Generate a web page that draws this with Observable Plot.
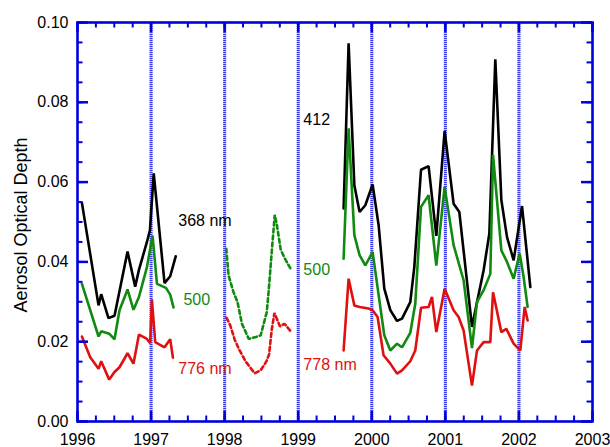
<!DOCTYPE html>
<html>
<head>
<meta charset="utf-8">
<script src="https://cdn.jsdelivr.net/npm/d3@7"></script>
<script src="https://cdn.jsdelivr.net/npm/@observablehq/plot@0.6"></script>
<style>
  html, body { margin: 0; padding: 0; background: #fff; }
</style>
</head>
<body>
<div id="chart"></div>
<script>
// ---- Data: [decimal year, aerosol optical depth] ----
const black1996 = [
  [1996.060, 0.0548], [1996.286, 0.0291], [1996.322, 0.0319], [1996.421, 0.0259],
  [1996.503, 0.0265], [1996.680, 0.0426], [1996.784, 0.0338], [1996.835, 0.0380],
  [1996.944, 0.0450], [1996.985, 0.0480], [1997.036, 0.0622], [1997.183, 0.0347],
  [1997.260, 0.0364], [1997.335, 0.0414]
];
const green1996 = [
  [1996.060, 0.0345], [1996.286, 0.0213], [1996.322, 0.0226], [1996.431, 0.0220],
  [1996.503, 0.0206], [1996.571, 0.0279], [1996.680, 0.0331], [1996.761, 0.0280],
  [1996.835, 0.0312], [1996.944, 0.0387], [1997.020, 0.0466], [1997.080, 0.0345],
  [1997.202, 0.0335], [1997.260, 0.0318], [1997.305, 0.0286]
];
const red1996 = [
  [1996.060, 0.0213], [1996.173, 0.0161], [1996.286, 0.0132], [1996.322, 0.0151],
  [1996.431, 0.0105], [1996.503, 0.0124], [1996.571, 0.0136], [1996.680, 0.0171],
  [1996.761, 0.0145], [1996.835, 0.0218], [1996.944, 0.0207], [1996.988, 0.0196],
  [1997.011, 0.0306], [1997.056, 0.0199], [1997.183, 0.0186], [1997.260, 0.0206],
  [1997.297, 0.0160]
];
const green1998 = [
  [1998.022, 0.0433], [1998.053, 0.0366], [1998.121, 0.0324], [1998.175, 0.0299],
  [1998.235, 0.0245], [1998.328, 0.0207], [1998.426, 0.0212], [1998.490, 0.0216],
  [1998.572, 0.0274], [1998.597, 0.0324], [1998.640, 0.0425], [1998.681, 0.0518],
  [1998.708, 0.0495], [1998.763, 0.0430], [1998.814, 0.0410], [1998.910, 0.0378]
];
const red1998 = [
  [1998.026, 0.0260], [1998.076, 0.0241], [1998.137, 0.0205], [1998.198, 0.0180],
  [1998.287, 0.0150], [1998.407, 0.0121], [1998.488, 0.0128], [1998.566, 0.0150],
  [1998.604, 0.0168], [1998.640, 0.0230], [1998.677, 0.0272], [1998.715, 0.0255],
  [1998.753, 0.0238], [1998.813, 0.0245], [1998.899, 0.0226]
];
const black2000 = [
  [1999.617, 0.0534], [1999.685, 0.0948], [1999.763, 0.0592], [1999.834, 0.0525],
  [1999.912, 0.0542], [2000.011, 0.0594], [2000.093, 0.0492], [2000.170, 0.0333],
  [2000.252, 0.0279], [2000.343, 0.0252], [2000.411, 0.0258], [2000.523, 0.0299],
  [2000.578, 0.0387], [2000.669, 0.0631], [2000.772, 0.0640], [2000.877, 0.0465],
  [2000.990, 0.0728], [2001.112, 0.0546], [2001.190, 0.0525], [2001.362, 0.0237],
  [2001.430, 0.0299], [2001.520, 0.0379], [2001.598, 0.0471], [2001.679, 0.0908],
  [2001.761, 0.0555], [2001.838, 0.0462], [2001.928, 0.0404], [2002.042, 0.0540],
  [2002.155, 0.0337]
];
const green2000 = [
  [1999.617, 0.0408], [1999.685, 0.0735], [1999.763, 0.0467], [1999.834, 0.0417],
  [1999.912, 0.0391], [2000.011, 0.0425], [2000.170, 0.0216], [2000.252, 0.0178],
  [2000.343, 0.0195], [2000.411, 0.0186], [2000.523, 0.0222], [2000.591, 0.0295],
  [2000.669, 0.0538], [2000.772, 0.0567], [2000.877, 0.0391], [2000.990, 0.0588],
  [2001.112, 0.0442], [2001.248, 0.0354], [2001.362, 0.0184], [2001.430, 0.0299],
  [2001.520, 0.0329], [2001.611, 0.0370], [2001.648, 0.0668], [2001.761, 0.0429],
  [2001.838, 0.0400], [2001.928, 0.0358], [2002.010, 0.0421], [2002.064, 0.0362],
  [2002.118, 0.0287]
];
const red2000 = [
  [1999.617, 0.0178], [1999.685, 0.0358], [1999.763, 0.0291], [1999.834, 0.0287],
  [1999.956, 0.0283], [2000.011, 0.0279], [2000.079, 0.0262], [2000.160, 0.0166],
  [2000.252, 0.0145], [2000.343, 0.0120], [2000.411, 0.0128], [2000.523, 0.0151],
  [2000.591, 0.0178], [2000.669, 0.0285], [2000.772, 0.0287], [2000.818, 0.0312],
  [2000.877, 0.0224], [2000.990, 0.0333], [2001.112, 0.0279], [2001.180, 0.0262],
  [2001.248, 0.0228], [2001.362, 0.0090], [2001.430, 0.0178], [2001.520, 0.0199],
  [2001.611, 0.0199], [2001.648, 0.0324], [2001.761, 0.0224], [2001.829, 0.0232],
  [2001.928, 0.0195], [2002.019, 0.0178], [2002.078, 0.0287], [2002.118, 0.0253]
];

// ---- Series labels ----
const labelTexts = ["368 nm", "500", "776 nm", "412", "500", "778 nm"];
const labelX = [1997.37, 1997.44, 1997.37, 1999.07, 1999.07, 1999.07];
const labelY = [0.0504, 0.0304, 0.0133, 0.0755, 0.0381, 0.0143];
const labelColors = ["black", "green", "red", "black", "green", "red"];

// ---- Ticks ----
const yearTicks = [1996, 1997, 1998, 1999, 2000, 2001, 2002, 2003];
const gridYears = [1997, 1998, 1999, 2000, 2001, 2002];
const yTicks = [0, 0.02, 0.04, 0.06, 0.08, 0.10];
const quarterTicks = d3.range(1996, 2003.001, 0.25);
const minorYTicks = d3.range(0, 0.1001, 0.005);

const BLACK = "#000000", GREEN = "#108a10", RED = "#e01010", BLUE = "#0000dd";
const colorOf = {black: BLACK, green: GREEN, red: RED};
const labels = labelTexts.map((t, i) => ({t, x: labelX[i], y: labelY[i], c: colorOf[labelColors[i]]}));

const W = 610, H = 447, ML = 77, MR = 18, MT = 22, MB = 26;
const innerW = W - ML - MR, innerH = H - MT - MB;
const px = d => d[0], py = d => d[1];
const solid = {x: px, y: py, strokeWidth: 2.6, strokeLinejoin: "miter"};
const dotted = {...solid, strokeDasharray: "4,3"};

const chart = Plot.plot({
  width: W, height: H,
  marginLeft: ML, marginRight: MR, marginTop: MT, marginBottom: MB,
  x: {domain: [1996, 2003], label: null},
  y: {domain: [0, 0.1], label: null},
  style: {fontFamily: "'Liberation Sans', Arial, sans-serif", fontSize: "16px", background: "white", color: "black"},
  marks: [
    // dotted year lines
    Plot.ruleX(gridYears, {x: d => d, stroke: "#c0c0ff", strokeWidth: 3}),
    Plot.ruleX(gridYears, {x: d => d, stroke: "#3a3af0", strokeWidth: 3, strokeDasharray: "1,1"}),
    // data
    Plot.line(black1996, {...solid, stroke: BLACK}),
    Plot.line(green1996, {...solid, stroke: GREEN}),
    Plot.line(red1996, {...solid, stroke: RED}),
    Plot.line(green1998, {...dotted, stroke: GREEN}),
    Plot.line(red1998, {...dotted, stroke: RED}),
    Plot.line(black2000, {...solid, stroke: BLACK}),
    Plot.line(green2000, {...solid, stroke: GREEN}),
    Plot.line(red2000, {...solid, stroke: RED}),
    // labels
    Plot.text(labels, {x: "x", y: "y", text: "t", fill: "c", textAnchor: "start", fontSize: 16}),
    // inward ticks
    Plot.ruleX(quarterTicks, {x: d => d, stroke: BLUE, strokeWidth: 2, insetTop: innerH - 5.5}),
    Plot.ruleX(quarterTicks, {x: d => d, stroke: BLUE, strokeWidth: 2, insetBottom: innerH - 5.5}),
    Plot.ruleX(yearTicks, {x: d => d, stroke: BLUE, strokeWidth: 2.5, insetTop: innerH - 10}),
    Plot.ruleX(yearTicks, {x: d => d, stroke: BLUE, strokeWidth: 2.5, insetBottom: innerH - 10}),
    Plot.ruleY(minorYTicks, {y: d => d, stroke: BLUE, strokeWidth: 2, insetRight: innerW - 5.5}),
    Plot.ruleY(minorYTicks, {y: d => d, stroke: BLUE, strokeWidth: 2, insetLeft: innerW - 5.5}),
    Plot.ruleY(yTicks, {y: d => d, stroke: BLUE, strokeWidth: 2.5, insetRight: innerW - 11}),
    Plot.ruleY(yTicks, {y: d => d, stroke: BLUE, strokeWidth: 2.5, insetLeft: innerW - 11}),
    Plot.frame({stroke: BLUE, strokeWidth: 2.6}),
    // tick labels
    Plot.axisX({ticks: yearTicks, tickSize: 0, tickPadding: 12, tickFormat: d => String(d), fontSize: 16, label: null}),
    Plot.axisY({ticks: yTicks, tickSize: 0, tickPadding: 9, tickFormat: d3.format(".2f"), fontSize: 16, label: null}),
    // y title
    Plot.text(["Aerosol Optical Depth"], {text: d => d, frameAnchor: "left", textAnchor: "middle", rotate: -90, dx: -56, dy: 3, fontSize: 18, fill: "black"})
  ]
});
document.getElementById("chart").appendChild(chart);
</script>
</body>
</html>
